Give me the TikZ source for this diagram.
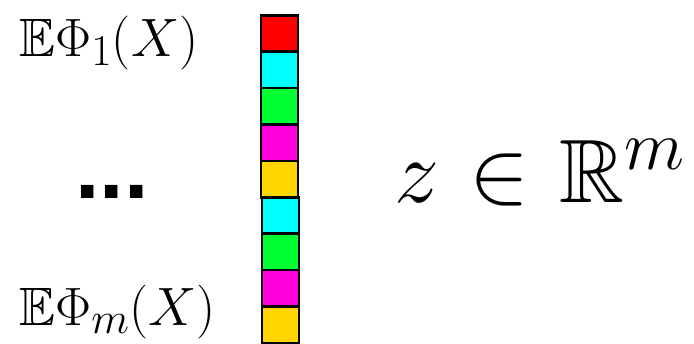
\RequirePackage{fix-cm}
\documentclass[tikz,border=0pt]{standalone}
\usepackage{amsmath, amssymb}
\usepackage{fontspec}
\newfontfamily\dotsfont{Liberation Sans}
\usepackage{tikz}
\usetikzlibrary{positioning}

\DeclareMathSizes{54}{54}{44}{34}
\DeclareMathSizes{90}{90}{70}{54}

\definecolor{cellred}{RGB}{255,0,0}
\definecolor{cellcyan}{RGB}{0,255,255}
\definecolor{cellgreen}{RGB}{0,255,51}
\definecolor{cellmagenta}{RGB}{255,0,220}
\definecolor{cellgold}{RGB}{255,214,0}

\tikzset{
    cellbox/.style={draw=black, line width=2.6pt, minimum width=37pt, minimum height=36.4pt,
        inner sep=0pt, outer sep=0pt, fill=#1},
    feature/.style={inner sep=0pt, anchor=base west, font=\fontsize{54}{64}\selectfont}
}

\begin{document}
\begin{tikzpicture}[x=1pt, y=-1pt]
    \useasboundingbox (0,0) rectangle (694,343);
    % Feature vector column
    \node[cellbox=cellred] (cell1) at (279.5,33.5) {};
    \node[cellbox=cellcyan, below=0pt of cell1] (cell2) {};
    \node[cellbox=cellgreen, below=0pt of cell2] (cell3) {};
    \node[cellbox=cellmagenta, below=0pt of cell3] (cell4) {};
    \node[cellbox=cellgold, below=0pt of cell4] (cell5) {};
    \node[cellbox=cellcyan, below=0pt of cell5, xshift=1pt] (cell6) {};
    \node[cellbox=cellgreen, below=0pt of cell6] (cell7) {};
    \node[cellbox=cellmagenta, below=0pt of cell7] (cell8) {};
    \node[cellbox=cellgold, below=0pt of cell8] (cell9) {};
    % Labels of first and last entries
    \node[feature] (first) at (19,56) {$\mathbb{E}\Phi_1(X)$};
    \node[feature] (last) at (19,325) {$\mathbb{E}\Phi_m(X)$};
    % Dots in between
    \node[inner sep=0pt, anchor=base, font=\dotsfont\bfseries\fontsize{88}{96}\selectfont] (dots) at (112,198) {...};
    % Vector space
    \node[inner sep=0pt, anchor=base west, font=\fontsize{90}{110}\selectfont] (zvec) at (394,202)
        {$z \mkern1mu\in\mkern1mu \mathbb{R}^m$};
\end{tikzpicture}
\end{document}
